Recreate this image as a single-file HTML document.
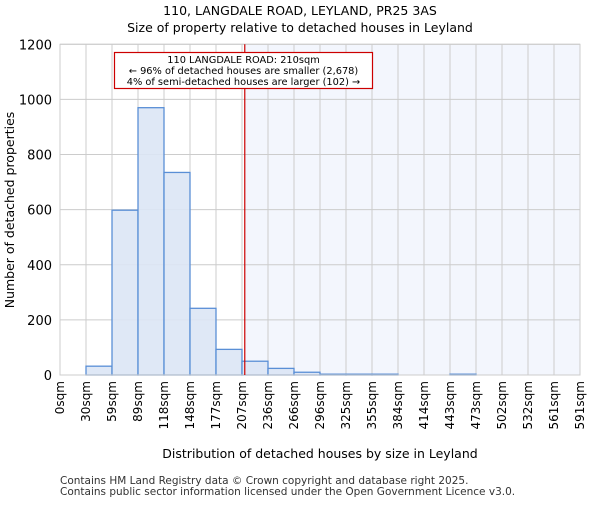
<!DOCTYPE html>
<html><head><meta charset="utf-8"><style>body{margin:0;background:#fff}svg{font-family:"DejaVu Sans","Liberation Sans",sans-serif}</style></head>
<body>
<svg id="c" width="600" height="500" viewBox="0 0 600 500" xmlns="http://www.w3.org/2000/svg">
<text x="300" y="15" text-anchor="middle" font-size="12.5">110, LANGDALE ROAD, LEYLAND, PR25 3AS</text>
<text x="300" y="32" text-anchor="middle" font-size="12.5">Size of property relative to detached houses in Leyland</text>
<g id="grid"></g><g id="bars"></g><g id="axes"></g>
<text x="320" y="458" text-anchor="middle" font-size="12.5">Distribution of detached houses by size in Leyland</text>
<text transform="translate(14,210) rotate(-90)" text-anchor="middle" font-size="12.5">Number of detached properties</text>
<text x="60" y="484" font-size="10.5" fill="#333">Contains HM Land Registry data © Crown copyright and database right 2025.</text>
<text x="60" y="495" font-size="10.5" fill="#333">Contains public sector information licensed under the Open Government Licence v3.0.</text>
</svg>
<script>
const binLabels=["0sqm","30sqm","59sqm","89sqm","118sqm","148sqm","177sqm","207sqm","236sqm","266sqm","296sqm","325sqm","355sqm","384sqm","414sqm","443sqm","473sqm","502sqm","532sqm","561sqm","591sqm"];
const counts=[0,32,598,970,735,242,93,50,24,10,3,3,3,0,0,3,0,0,0,0];
const yTicks=[0,200,400,600,800,1000,1200];
const binSize=29.55;
const propertySize=210;
const L=60,R=580,T=44.3,B=375,yMax=1200;
const n=counts.length,bw=(R-L)/n;
const xs=v=>L+v/binSize*bw;
const ys=v=>B-v/yMax*(B-T);
const NS="http://www.w3.org/2000/svg";
function mk(p,t,a){const e=document.createElementNS(NS,t);for(const k in a)e.setAttribute(k,a[k]);document.getElementById(p).appendChild(e);return e;}
let sh=mk("grid","rect",{x:xs(propertySize),y:T,width:R-xs(propertySize),height:B-T,fill:"#f3f6fd"});


yTicks.forEach(v=>{let g=mk("grid","line",{x1:L,x2:R,y1:ys(v),y2:ys(v),stroke:"#ccc","stroke-width":1});


let t=mk("axes","text",{x:L-8,y:ys(v)+5,"text-anchor":"end","font-size":"13"});t.textContent=v;

});
binLabels.forEach((lab,i)=>{const x=L+i*bw;let g=mk("grid","line",{x1:x,x2:x,y1:T,y2:B,stroke:"#ccc","stroke-width":1});


let t=mk("axes","text",{transform:`translate(${x+4},${B+6}) rotate(-90)`,"text-anchor":"end","font-size":"12"});t.textContent=lab;

});
counts.forEach((c,i)=>{if(c<=0)return;const x0=L+i*bw;let r=mk("bars","rect",{x:x0,y:ys(c),width:bw,height:B-ys(c),fill:"#dbe6f5","fill-opacity":0.9,stroke:"#5a8fd6","stroke-width":1.3});

});
let ax=mk("axes","rect",{x:L,y:T,width:R-L,height:B-T,fill:"none",stroke:"#ccc"});


let ml=mk("axes","line",{x1:xs(propertySize),x2:xs(propertySize),y1:T,y2:B,stroke:"#c00","stroke-width":1.2});


let box=mk("axes","rect",{x:114.5,y:52.5,width:258,height:36,fill:"#fff",stroke:"#c00","stroke-width":1.2});


["110 LANGDALE ROAD: 210sqm","← 96% of detached houses are smaller (2,678)","4% of semi-detached houses are larger (102) →"].forEach((s,i)=>{let t=mk("axes","text",{x:243.5,y:63+i*11,"text-anchor":"middle","font-size":"9.8"});t.textContent=s;

});
</script>
</body></html>
